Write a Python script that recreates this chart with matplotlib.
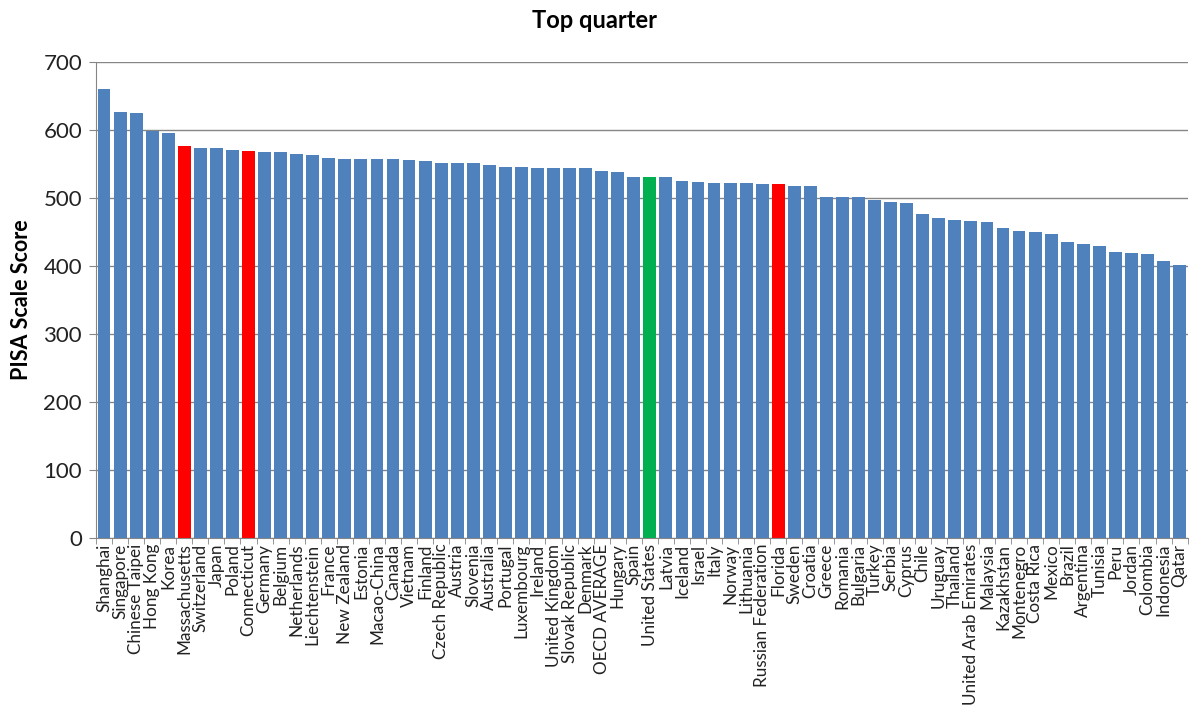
import numpy as np
import matplotlib.pyplot as plt

plt.rcParams['font.family'] = ['Lato', 'DejaVu Sans']

countries = ["Shanghai", "Singapore", "Chinese Taipei", "Hong Kong", "Korea",
             "Massachusetts", "Switzerland", "Japan", "Poland", "Connecticut",
             "Germany", "Belgium", "Netherlands", "Liechtenstein", "France",
             "New Zealand", "Estonia", "Macao-China", "Canada", "Vietnam",
             "Finland", "Czech Republic", "Austria", "Slovenia", "Australia",
             "Portugal", "Luxembourg", "Ireland", "United Kingdom", "Slovak Republic",
             "Denmark", "OECD AVERAGE", "Hungary", "Spain", "United States",
             "Latvia", "Iceland", "Israel", "Italy", "Norway",
             "Lithuania", "Russian Federation", "Florida", "Sweden", "Croatia",
             "Greece", "Romania", "Bulgaria", "Turkey", "Serbia",
             "Cyprus", "Chile", "Uruguay", "Thailand", "United Arab Emirates",
             "Malaysia", "Kazakhstan", "Montenegro", "Costa Rica", "Mexico",
             "Brazil", "Argentina", "Tunisia", "Peru", "Jordan",
             "Colombia", "Indonesia", "Qatar"]

scores = [660, 627, 625, 599, 595,
          576, 574, 574, 571, 569,
          568, 567, 565, 563, 559,
          557, 557, 557, 557, 556,
          554, 552, 552, 552, 548,
          546, 546, 544, 544, 544,
          544, 540, 538, 531, 531,
          531, 525, 523, 522, 522,
          522, 520, 520, 518, 517,
          501, 501, 501, 497, 494,
          492, 477, 471, 467, 466,
          464, 456, 452, 450, 447,
          436, 432, 430, 421, 419,
          417, 407, 401]

us_states = ["Massachusetts", "Connecticut", "Florida"]

colors = []
for c in countries:
    if c in us_states:
        colors.append("#FF0000")
    elif c == "United States":
        colors.append("#00B050")
    else:
        colors.append("#4F81BD")

fig = plt.figure(figsize=(11.9, 7.12), dpi=100)
ax = fig.add_axes([96 / 1190, 1 - 538 / 712, 1 - 96 / 1190 - 0.002, (538 - 62) / 712])

x = np.arange(len(countries))
ax.bar(x, scores, width=0.8, color=colors, zorder=2)

ax.set_xlim(-0.5, len(countries) - 0.5)
ax.set_ylim(0, 700)
ax.set_yticks(range(0, 701, 100))
ax.yaxis.grid(True, color="#868686", linewidth=1, zorder=0)

ax.set_xticks(x)
ax.set_xticklabels(countries, rotation=90, fontsize=12.3, color="#222222")
ax.tick_params(axis="x", length=0, pad=4)
ax.set_xticks(np.arange(-0.5, len(countries)), minor=True)
ax.tick_params(axis="x", which="minor", length=4, color="#868686")
ax.tick_params(axis="y", labelsize=16, length=5, color="#868686", pad=5,
               labelcolor="#222222")

for side in ["top", "right"]:
    ax.spines[side].set_visible(False)
for side in ["left", "bottom"]:
    ax.spines[side].set_color("#868686")

ax.set_ylabel("PISA Scale Score", fontsize=15.5, fontweight="bold", labelpad=8)
fig.text(0.5, 1 - 20 / 712, "Top quarter", ha="center", va="center",
         fontsize=17, fontweight="bold")

fig.savefig("out.png", dpi=100)
